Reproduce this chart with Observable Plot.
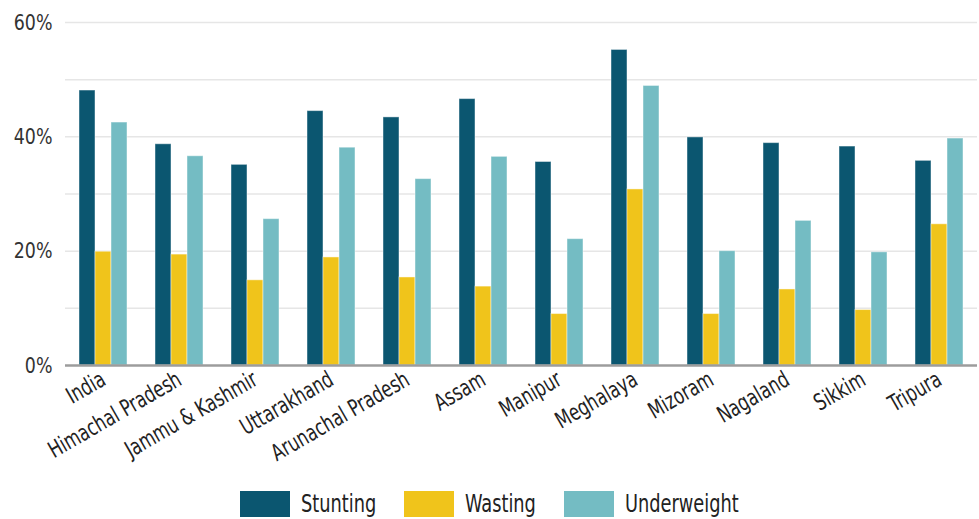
<!DOCTYPE html>
<html>
<head>
<meta charset="utf-8">
<script src="https://cdn.jsdelivr.net/npm/d3@7"></script>
<script src="https://cdn.jsdelivr.net/npm/@observablehq/plot@0.6"></script>
<style>
  html, body { margin: 0; padding: 0; background: #fff; }
  body { width: 979px; font-family: "DejaVu Sans Condensed", "DejaVu Sans", sans-serif; color: #222; }
  #legend { display: flex; justify-content: center; align-items: center; padding-top: 7px; height: 30px; }
  .item { display: flex; align-items: center; margin: 0 14px; }
  .sw { width: 50px; height: 26px; margin-right: 11px; flex: none; }
  .labwrap { display: inline-block; }
  .lab { display: inline-block; font-size: 25px; line-height: 26px; transform-origin: left center; transform: scaleX(0.79); }
</style>
</head>
<body>
<div id="chart"></div>
<div id="legend"></div>
<script>
const states = ["India", "Himachal Pradesh", "Jammu & Kashmir", "Uttarakhand", "Arunachal Pradesh", "Assam", "Manipur", "Meghalaya", "Mizoram", "Nagaland", "Sikkim", "Tripura"];
const series = ["Stunting", "Wasting", "Underweight"];
const stunting = [48.1, 38.7, 35.1, 44.5, 43.4, 46.6, 35.6, 55.2, 39.9, 38.9, 38.3, 35.8];
const wasting = [19.9, 19.4, 14.9, 18.9, 15.4, 13.8, 9.0, 30.8, 9.0, 13.3, 9.7, 24.7];
const underweight = [42.5, 36.6, 25.6, 38.1, 32.6, 36.5, 22.1, 48.9, 20.0, 25.3, 19.8, 39.7];
const colors = ["#0b5670", "#f0c41b", "#74bcc3"];
const yLabelTicks = [0, 20, 40, 60];
const gridTicks = [10, 20, 30, 40, 50, 60];

const valuesBySeries = [stunting, wasting, underweight];
const data = [];
states.forEach((s, i) => {
  series.forEach((k, j) => data.push({state: s, series: k, value: valuesBySeries[j][i]}));
});

const font = '"DejaVu Sans Condensed", "DejaVu Sans", sans-serif';

const chart = Plot.plot({
  width: 979,
  height: 482,
  marginLeft: 64,
  marginRight: 1,
  marginTop: 22,
  marginBottom: 117,
  style: {fontFamily: font, fontSize: "20px", color: "#222", background: "#fff"},
  fx: {domain: states, paddingInner: 0, paddingOuter: 0, label: null, axis: null},
  x: {domain: series, paddingInner: 0, paddingOuter: 0.78, axis: null},
  y: {domain: [0, 60], axis: null, label: null},
  color: {domain: series, range: colors},
  marks: [
    Plot.ruleY(gridTicks, {stroke: "#e6e6e6", strokeWidth: 1.5}),
    Plot.barY(data, {fx: "state", x: "series", y: "value", fill: "series", stroke: "#ffffff", strokeOpacity: 0.45, strokeWidth: 1}),
    Plot.ruleY([0], {stroke: "#9c9c9c", strokeWidth: 2.5}),
    Plot.axisY(yLabelTicks, {tickSize: 0, tickPadding: 13, tickFormat: d => d + "%", fontSize: 22, fill: "#333", label: null}),
    Plot.axisFx({anchor: "bottom", tickRotate: -30, tickSize: 0, tickPadding: 12, fontSize: 23, fill: "#222", label: null})
  ]
});
document.getElementById("chart").appendChild(chart);

// condense axis text horizontally (narrow typeface look)
function squeezeText(selector, s) {
  d3.select(chart).selectAll(selector).each(function () {
    const tr = this.getAttribute("transform") || "";
    this.setAttribute("transform", `${tr} scale(${s},1)`);
  });
}
squeezeText("g[aria-label='fx-axis tick label'] text", 0.8);
squeezeText("g[aria-label='y-axis tick label'] text", 0.88);

const legend = document.getElementById("legend");
series.forEach((k, j) => {
  const item = document.createElement("div");
  item.className = "item";
  const sw = document.createElement("div");
  sw.className = "sw";
  sw.style.background = colors[j];
  const wrap = document.createElement("span");
  wrap.className = "labwrap";
  const lab = document.createElement("span");
  lab.className = "lab";
  lab.textContent = k;
  wrap.appendChild(lab);
  item.appendChild(sw);
  item.appendChild(wrap);
  legend.appendChild(item);
});
document.querySelectorAll(".labwrap").forEach(w => {
  w.style.width = w.firstChild.getBoundingClientRect().width + "px";
});
</script>
</body>
</html>
